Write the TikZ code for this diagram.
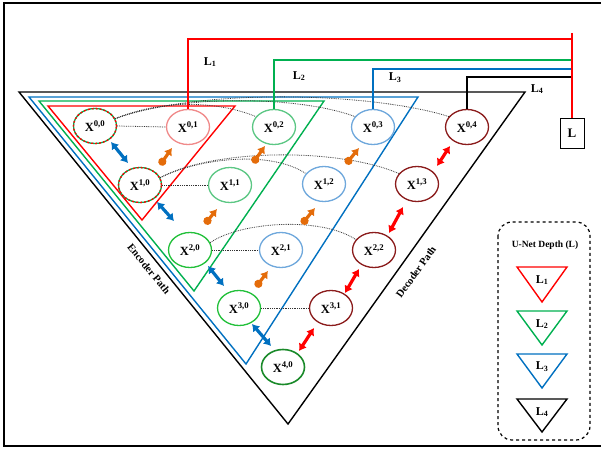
\documentclass[tikz,border=0pt]{standalone}
\usepackage{fontspec}
\setmainfont{Liberation Serif}
\usetikzlibrary{arrows.meta,shapes.geometric}
\definecolor{cred}{HTML}{FF0000}
\definecolor{cgreen}{HTML}{00B050}
\definecolor{cblue}{HTML}{0070C0}
\definecolor{corange}{HTML}{E46C0A}
\definecolor{lred}{HTML}{F08A8A}
\definecolor{lgreen}{HTML}{5CC784}
\definecolor{lblue}{HTML}{6FA8DC}
\definecolor{bgreen}{HTML}{22C03A}
\definecolor{dgreen}{HTML}{1A8A2A}
\definecolor{maroon}{HTML}{8B1C1C}
\tikzset{
  cell/.style={ellipse, draw, fill=white, minimum width=43pt, minimum height=35pt, inner sep=0pt,
    line width=1.3pt, font=\fontsize{12.5}{14}\selectfont\bfseries},
  mixcell/.style={cell, draw=cgreen, postaction={draw=cred, dash pattern=on 2pt off 2pt, line width=1.3pt}},
  tri/.style={line width=1.4pt, line join=miter},
  skip/.style={densely dotted, line width=0.8pt, black!80},
  lab/.style={font=\fontsize{12}{14}\selectfont\bfseries, inner sep=0pt},
  barrow/.style={cblue, line width=3.2pt, {Latex[length=7pt,width=9.5pt]}-{Latex[length=7pt,width=9.5pt]}},
  rarrow/.style={cred, line width=3.2pt, {Latex[length=7pt,width=9.5pt]}-{Latex[length=7pt,width=9.5pt]}},
  oarrow/.style={corange, line width=3.2pt, {Circle[length=8pt,width=8pt]}-{Latex[length=7pt,width=9.5pt]}},
  wire/.style={line width=1.3pt}
}
\begin{document}
\begin{tikzpicture}[x=1pt,y=-1pt]
\useasboundingbox (0,0) rectangle (601,449);
% frame
\draw[line width=2pt] (4,3) rectangle (604,446);

% depth triangles
\draw[tri,black]  (19,92)  -- (525,92)  -- (288,424) -- cycle;
\draw[tri,cblue]  (29,97)  -- (418,97)  -- (246,364) -- cycle;
\draw[tri,cgreen] (39,101) -- (324,101) -- (194,291) -- cycle;
\draw[tri,cred]   (48,106) -- (235,106) -- (142,220) -- cycle;

% cells
\node[mixcell] (X00) at (95,126)  {X\textsuperscript{0,0}};
\node[cell,draw=lred] (X01) at (188,127) {X\textsuperscript{0,1}};
\node[cell,draw=lgreen] (X02) at (274,127) {X\textsuperscript{0,2}};
\node[cell,draw=lblue] (X03) at (373,127) {X\textsuperscript{0,3}};
\node[cell,draw=maroon] (X04) at (467,127) {X\textsuperscript{0,4}};
\node[mixcell] (X10) at (140,185) {X\textsuperscript{1,0}};
\node[cell,draw=lgreen] (X11) at (230,185) {X\textsuperscript{1,1}};
\node[cell,draw=lblue] (X12) at (324,184) {X\textsuperscript{1,2}};
\node[cell,draw=maroon] (X13) at (417,184) {X\textsuperscript{1,3}};
\node[cell,draw=bgreen] (X20) at (190,250) {X\textsuperscript{2,0}};
\node[cell,draw=lblue] (X21) at (281,250) {X\textsuperscript{2,1}};
\node[cell,draw=maroon] (X22) at (374,250) {X\textsuperscript{2,2}};
\node[cell,draw=bgreen] (X30) at (239,308) {X\textsuperscript{3,0}};
\node[cell,draw=maroon] (X31) at (331,308) {X\textsuperscript{3,1}};
\node[cell,draw=dgreen,line width=1.6pt] (X40) at (283,367) {X\textsuperscript{4,0}};

% skip connections
\draw[skip] (X00.east) -- (X01.west);
\draw[skip] (X10.east) -- (X11.west);
\draw[skip] (X20.east) -- (X21.west);
\draw[skip] (X30.east) -- (X31.west);
\draw[skip] (X00.20) .. controls (160,100) and (215,100) .. (X02.150);
\draw[skip] (X00.20) .. controls (180,94) and (300,96) .. (X03.150);
\draw[skip] (X00.20) .. controls (200,88) and (370,92) .. (X04.150);
\draw[skip] (X10.20) .. controls (200,158) and (270,150) .. (X12.150);
\draw[skip] (X10.20) .. controls (215,148) and (340,148) .. (X13.150);
\draw[skip] (X20.20) .. controls (240,222) and (320,216) .. (X22.150);

% arrows
\coordinate (b1s) at (111,142); \coordinate (b1e) at (128,163);
\coordinate (b2s) at (157,202); \coordinate (b2e) at (174,221);
\coordinate (b3s) at (208,266); \coordinate (b3e) at (224,286);
\coordinate (b4s) at (252,324); \coordinate (b4e) at (271,346);
\draw[barrow] (b1s) -- (b1e);
\draw[barrow] (b2s) -- (b2e);
\draw[barrow] (b3s) -- (b3e);
\draw[barrow] (b4s) -- (b4e);
\coordinate (o1s) at (160,165); \coordinate (o1e) at (172,148);
\coordinate (o2s) at (205,224); \coordinate (o2e) at (217,209);
\coordinate (o3s) at (253,163); \coordinate (o3e) at (265,146);
\coordinate (o4s) at (346,164); \coordinate (o4e) at (359,148);
\coordinate (o5s) at (302,224); \coordinate (o5e) at (315,208);
\coordinate (o6s) at (256,287); \coordinate (o6e) at (268,271);
\foreach \i in {1,...,6} {\draw[oarrow] (o\i s) -- (o\i e);}
\coordinate (r1s) at (299,351); \coordinate (r1e) at (314,328);
\coordinate (r2s) at (345,293); \coordinate (r2e) at (359,269);
\coordinate (r3s) at (389,233); \coordinate (r3e) at (403,207);
\coordinate (r4s) at (437,166); \coordinate (r4e) at (450,146);
\foreach \i in {1,...,4} {\draw[rarrow] (r\i s) -- (r\i e);}

% output wires
\node[draw, line width=1pt, minimum width=24pt, minimum height=29pt, inner sep=0pt,
      font=\fontsize{13}{15}\selectfont\bfseries] (Lbox) at (572,133.5) {L};
\coordinate (rc) at (572,39);
\coordinate (gc) at (572,60);
\coordinate (bc) at (572,69);
\coordinate (kc) at (572,77);
\coordinate (rtop) at (572,33);
\draw[wire,cred] (X01.north) |- (rc);
\draw[wire,cgreen] (X02.north) |- (gc);
\draw[wire,cblue] (X03.north) |- (bc);
\draw[wire,black] (X04.north) |- (kc);
\draw[wire,cred] (rtop) -- (Lbox.north);

\node[lab] (l1) at (210,62) {L\textsubscript{1}};
\node[lab] (l2) at (299,76) {L\textsubscript{2}};
\node[lab] (l3) at (395,78) {L\textsubscript{3}};
\node[lab] (l4) at (537,89) {L\textsubscript{4}};

% path labels
\node[font=\fontsize{10.5}{12}\selectfont\bfseries, rotate=-51] (enc) at (149,269) {Encoder Path};
\node[font=\fontsize{10.5}{12}\selectfont\bfseries, rotate=54.5] (dec) at (416,272) {Decoder Path};

% legend
\draw[dashed, line width=1.2pt, rounded corners=14pt] (498,222) rectangle (590,440);
\node[font=\fontsize{9.5}{11}\selectfont\bfseries] (lt) at (545,245) {U-Net Depth (L)};
\draw[tri,cred]   (517,267) -- (567,267) -- (542,302) -- cycle;
\draw[tri,cgreen] (517,311) -- (567,311) -- (542,345) -- cycle;
\draw[tri,cblue]  (517,354) -- (567,354) -- (542,388) -- cycle;
\draw[tri,black]  (517,399) -- (567,399) -- (542,432) -- cycle;
\node[lab] (g1) at (542,280) {L\textsubscript{1}};
\node[lab] (g2) at (542,324) {L\textsubscript{2}};
\node[lab] (g3) at (542,367) {L\textsubscript{3}};
\node[lab] (g4) at (542,412) {L\textsubscript{4}};
\end{tikzpicture}
\end{document}
